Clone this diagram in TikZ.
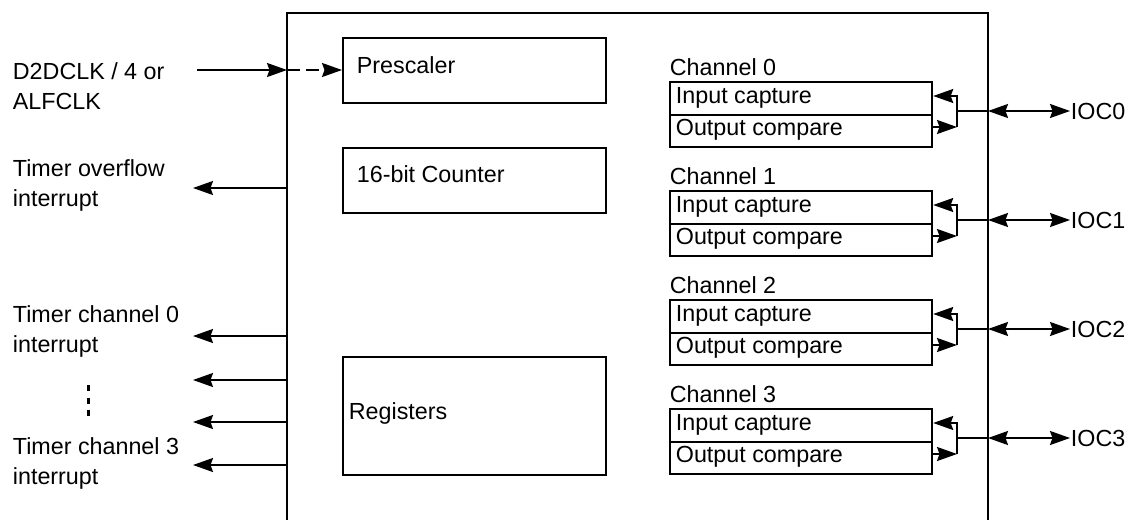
\documentclass[tikz,border=0pt]{standalone}
\usepackage{fontspec}
\setmainfont{Liberation Sans}
\usetikzlibrary{arrows.meta}
\begin{document}
\begin{tikzpicture}[x=1pt,y=-1pt,line width=1.8pt,
  txt/.style={anchor=west,inner sep=0pt,font=\fontsize{23.3}{30}\selectfont,align=left},
  blk/.style={draw,line width=2.2pt,anchor=north west,inner sep=0pt},
  row/.style={draw,line width=2.2pt,anchor=north west,minimum width=262pt,minimum height=32.5pt,inner sep=0pt},
  tip/.style={-{Stealth[length=20pt,width=14pt,inset=2.5pt]}},
  dtip/.style={{Stealth[length=20pt,width=14pt,inset=2.5pt]}-{Stealth[length=20pt,width=14pt,inset=2.5pt]}}]
\useasboundingbox (0,0) rectangle (1134,519);
% main box (open at bottom)
\coordinate (mbl) at (287,522);
\coordinate (mtl) at (287,13);
\coordinate (mtr) at (988,13);
\coordinate (mbr) at (988,522);
\draw[line width=2.2pt] (mbl) -- (mtl) -- (mtr) -- (mbr);
% inner blocks
\node[blk,minimum width=263pt,minimum height=65pt] (pre) at (342,37) {};
\node[txt] at (356,65) {Prescaler};
\node[blk,minimum width=263pt,minimum height=65pt] (cnt) at (342,147) {};
\node[txt] at (356,174) {16-bit Counter};
\node[blk,minimum width=263pt,minimum height=118pt] (reg) at (342,356) {};
\node[txt] at (348,413) {Registers};
% clock input
\node[txt] (clk) at (12,86) {D2DCLK / 4 or\\ALFCLK};
\coordinate (clkin) at (197,70);
\coordinate (clkb) at (287,70);
\draw[tip] (clkin) -- (clkb);
\draw[tip,dash pattern=on 13pt off 6pt] (clkb) -- (pre.west |- clkb);
% overflow
\node[txt] (ovf) at (12,185) {Timer overflow\\interrupt};
\coordinate (ovfs) at (287,188);
\coordinate (ovfe) at (193,188);
\draw[tip] (ovfs) -- (ovfe);
% channel interrupts
\node[txt] (ti0) at (12,331) {Timer channel 0\\interrupt};
\node[txt] (ti3) at (12,463) {Timer channel 3\\interrupt};
\foreach \yy [count=\i] in {336,380,422,465}{
  \coordinate (is\i) at (287,\yy);
  \coordinate (ie\i) at (193,\yy);
  \draw[tip] (is\i) -- (ie\i);
}
\coordinate (dotA) at (88,385);
\coordinate (dotB) at (88,416);
\draw[line width=3pt,dash pattern=on 6pt off 6.5pt] (dotA) -- (dotB);
% channels
\foreach \k in {0,1,2,3}{
  \pgfmathsetmacro{\dy}{109*\k}
  \node[txt] (ch\k) at (669,67+\dy) {Channel \k};
  \node[row] (ic\k) at (669,81+\dy) {};
  \node[txt] at (675,97.5+\dy) {Input capture};
  \node[row] (oc\k) at (669,113.5+\dy) {};
  \node[txt] at (675,130+\dy) {Output compare};
  \coordinate (bm\k) at (957,111+\dy);
  \coordinate (bt\k) at (957,96+\dy);
  \coordinate (bb\k) at (957,127+\dy);
  \coordinate (mb\k) at (988,111+\dy);
  \node[txt] (ioc\k) at (1070,111+\dy) {IOC\k};
  \draw[tip] (bm\k) -- (bt\k) -- (ic\k.east |- bt\k);
  \draw[tip] (oc\k.east |- bb\k) -- (bb\k);
  \draw (bb\k) -- (bm\k) -- (mb\k);
  \draw[dtip] (mb\k) -- (ioc\k.west);
}
\end{tikzpicture}
\end{document}
